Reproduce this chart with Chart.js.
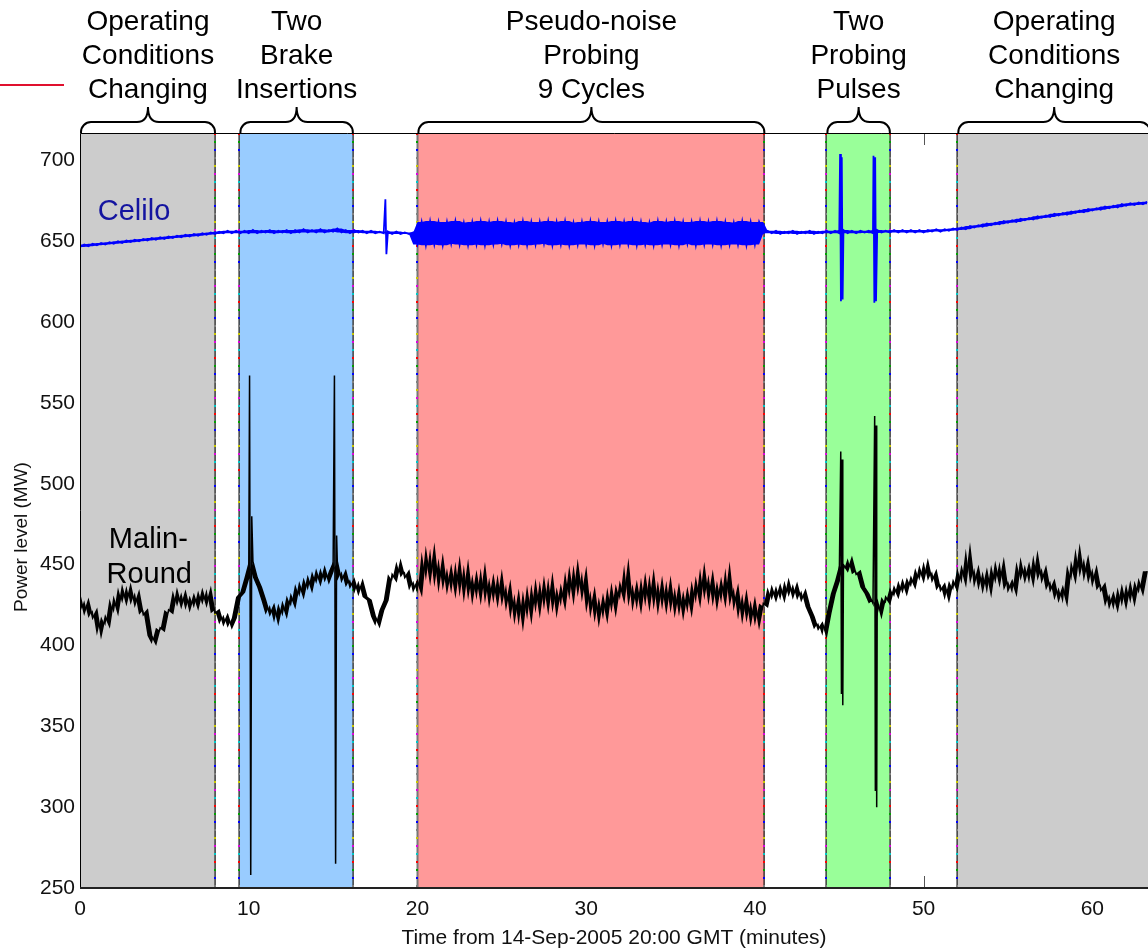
<html>
<head>
<meta charset="UTF-8">
<title>Celilo and Malin-Round power level</title>
<style>
* {
    margin: 0;
    padding: 0;
}
body {
    width: 1148px;
    height: 950px;
    background: white;
    overflow: hidden;
}
canvas {
    display: block;
}
</style>
<script src="https://cdn.jsdelivr.net/npm/chart.js@4.4.1/dist/chart.umd.min.js"></script>
</head>
<body>
<canvas id="canvas" width="1148" height="950"></canvas>
<script>
// sample step of the two traces (minutes)
const DT = 0.25

// Malin-Round power (MW), one value every DT minutes from t = 0
const malin = [
    431, 420, 428, 417, 422, 406, 418, 412,
    429, 420, 436, 426, 437, 425, 433, 419,
    422, 406, 401, 411, 409, 422, 420, 434,
    424, 433, 422, 431, 423, 434, 425, 435,
    420, 422, 413, 419, 411, 417, 430, 433,
    442, 452, 442, 436, 428, 419, 425, 414,
    426, 418, 431, 424, 438, 430, 442, 434,
    446, 438, 448, 439, 446, 452, 440, 446,
    436, 441, 432, 440, 430, 428, 418, 412,
    422, 428, 444, 440, 452, 442, 446, 434,
    440, 432, 458, 440, 460, 436, 454, 434,
    448, 432, 452, 430, 450, 428, 444, 428,
    448, 426, 442, 426, 444, 424, 438, 416,
    432, 412, 434, 416, 438, 420, 440, 422,
    442, 420, 436, 424, 446, 428, 450, 430,
    446, 420, 434, 414, 430, 416, 436, 420,
    438, 428, 450, 424, 438, 422, 442, 424,
    444, 422, 440, 422, 440, 420, 436, 418,
    434, 420, 440, 426, 448, 428, 444, 424,
    440, 426, 448, 424, 436, 416, 432, 414,
    428, 412, 426, 424, 436, 428, 437, 428,
    440, 430, 438, 428, 434, 424, 418, 410,
    414, 406, 420, 432, 440, 450, 446, 454,
    444, 446, 436, 432, 426, 428, 418, 430,
    426, 436, 430, 440, 432, 442, 436, 448,
    440, 452, 440, 446, 434, 438, 428, 440,
    434, 448, 438, 460, 438, 448, 434, 446,
    432, 450, 438, 452, 434, 440, 432, 452,
    440, 450, 438, 456, 440, 448, 434, 440,
    428, 436, 426, 450, 440, 460, 442, 454,
    438, 448, 434, 438, 424, 432, 422, 436,
    424, 438, 426, 440, 432, 446
]

// Celilo power (MW), same time base
const celilo = [
    646.5, 648, 647, 648.5, 647.5, 649, 648, 649.5,
    648.5, 650, 649, 650.5, 649.5, 651, 650, 651.5,
    650.5, 652, 651, 652.5, 651.5, 653, 652, 653.5,
    652.5, 654, 653, 654.5, 653.5, 655, 654, 655.5,
    654.5, 656, 655, 656.5, 655, 656.5, 655, 656.5,
    655, 657, 655, 656.5, 655.5, 657, 655, 656.5,
    655.5, 657, 655, 657, 655.5, 657.5, 655.5, 657,
    655.5, 657.5, 655.5, 657, 656, 658, 655.5, 657,
    655, 657, 655.5, 656.5, 655, 656.5, 655, 656,
    655, 656, 654.5, 656, 654.5, 655.5, 654.5, 655.5,
    648, 662, 647.5, 662.5, 648, 662, 647.5, 662,
    648.5, 662.5, 648, 661.5, 647.5, 662, 648, 662.5,
    647.5, 662, 648, 662.5, 648.5, 662, 647.5, 661.5,
    648, 662.5, 647.5, 662, 648, 662, 648.5, 662.5,
    647.5, 662, 648, 662.5, 647.5, 661.5, 648, 662,
    648, 662.5, 647.5, 662, 648.5, 662, 647.5, 662.5,
    648, 662, 648, 662.5, 647.5, 662, 648, 661.5,
    647.5, 662.5, 648, 662, 648, 662.5, 647.5, 662,
    648.5, 662, 647.5, 662.5, 648, 662, 648, 662.5,
    647.5, 662, 648, 661.5, 648, 662.5, 647.5, 662,
    648, 662, 655, 656.5, 655, 656.5, 654.5, 656,
    655, 656.5, 654.5, 656, 655, 656.5, 654.5, 656,
    655, 656.5, 655, 656.5, 655, 657, 655, 656.5,
    655, 656.5, 655.5, 656.5, 655, 657, 655.5, 656.5,
    655.5, 657, 655.5, 657, 655.5, 657, 655.5, 657,
    655.5, 657, 656, 657.5, 656, 657.5, 656.5, 658,
    657, 658.5, 657.5, 659.5, 658.5, 660, 659, 661,
    660, 661.5, 660.5, 662.5, 661.5, 663, 662, 664,
    663, 664.5, 663.5, 665.5, 664.5, 666, 665, 667,
    666, 667.5, 666.5, 668.5, 667.5, 669, 668, 670,
    669, 670.5, 669.5, 671.5, 670.5, 672, 671, 673,
    672, 673.5, 672.5, 674, 673, 674.5
]

// short pulses (brake insertions and probing pulses)
const malinSpikeTime = [10.05, 10.12, 10.18, 15.08, 15.15, 15.21,
    45.09, 45.13, 45.17, 45.21, 47.1, 47.14, 47.18, 47.22]
const malinSpikeValue = [567, 258, 480, 567, 265, 468,
    520, 370, 515, 363, 542, 310, 536, 300]
const celiloSpikeTime = [18.1, 18.16, 45.05, 45.1, 45.15, 45.2, 47.03, 47.08, 47.13, 47.18]
const celiloSpikeValue = [676, 642, 704, 613, 702, 614, 703, 612, 702, 613]

// shaded test periods
const regionStart = [0, 9.45, 20, 44.24, 52]
const regionEnd = [8, 16.17, 40.56, 48, 63.42]
const regionColor = ["#cccccc", "#99ccff", "#ff9999", "#99ff99", "#cccccc"]
const regionLabel = [
    ["Operating", "Conditions", "Changing"],
    ["Two", "Brake", "Insertions"],
    ["Pseudo-noise", "Probing", "9 Cycles"],
    ["Two", "Probing", "Pulses"],
    ["Operating", "Conditions", "Changing"],
]
const edgeTime = [8, 9.45, 16.17, 20, 40.56, 44.24, 48, 52]
const dotColors = ["#ff0000", "#00a000", "#0000ff", "#808080", "#c8c800", "#e000e0", "#00c8c8"]

const xTicks = [0, 10, 20, 30, 40, 50, 60]
const yTicks = [250, 300, 350, 400, 450, 500, 550, 600, 650, 700]

const FONT = "Arial, 'Liberation Sans', Helvetica, sans-serif"

function series(values, spikeT, spikeV) {
    var pts = values.map((v, i) => ({x: i * DT, y: v}))
    for (var i = 0; i < spikeT.length; ++i) pts.push({x: spikeT[i], y: spikeV[i]})
    pts.sort((a, b) => a.x - b.x)
    return pts
}

// same samples, paired with the next one: filling between the two thickens the noise
function base(values) {
    return values.map((v, i) => ({x: i * DT, y: v}))
}
function nextSample(values) {
    return values.map((v, i) => ({x: i * DT, y: values[Math.min(i + 1, values.length - 1)]}))
}
// highest / lowest of each sample and its neighbours: the noise envelope
function envelope(values, pick) {
    return values.map((v, i) => ({
        x: i * DT,
        y: pick(values[Math.max(i - 1, 0)], v, values[Math.min(i + 1, values.length - 1)]),
    }))
}

function brace(ctx, x0, x1, yb) {
    var ym = yb - 11, yt = yb - 26, r = 10, xc = (x0 + x1) / 2
    ctx.beginPath()
    ctx.moveTo(x0, yb)
    ctx.arcTo(x0, ym, x0 + r, ym, r)
    ctx.lineTo(xc - 11, ym)
    ctx.quadraticCurveTo(xc, ym, xc, yt)
    ctx.quadraticCurveTo(xc, ym, xc + 11, ym)
    ctx.lineTo(x1 - r, ym)
    ctx.arcTo(x1, ym, x1, yb, r)
    ctx.lineTo(x1, yb)
    ctx.stroke()
}

const decor = {
    id: "decor",
    beforeDatasetsDraw(chart) {
        const ctx = chart.ctx, a = chart.chartArea
        const xs = chart.scales.x, ys = chart.scales.y
        ctx.save()
        // inward tick marks (mostly hidden under the patches)
        ctx.strokeStyle = "#555"
        ctx.lineWidth = 1
        xTicks.forEach(t => {
            var px = Math.round(xs.getPixelForValue(t)) + 0.5
            ctx.beginPath()
            ctx.moveTo(px, a.top); ctx.lineTo(px, a.top + 12)
            ctx.moveTo(px, a.bottom); ctx.lineTo(px, a.bottom - 12)
            ctx.stroke()
        })
        yTicks.forEach(v => {
            var py = Math.round(ys.getPixelForValue(v)) + 0.5
            ctx.beginPath()
            ctx.moveTo(a.left, py); ctx.lineTo(a.left + 12, py)
            ctx.stroke()
        })
        // shaded periods
        ctx.beginPath()
        ctx.rect(a.left, a.top, a.right - a.left, a.bottom - a.top)
        ctx.clip()
        for (var i = 0; i < regionStart.length; ++i) {
            var x0 = xs.getPixelForValue(regionStart[i]), x1 = xs.getPixelForValue(regionEnd[i])
            ctx.fillStyle = regionColor[i]
            ctx.fillRect(x0, a.top, x1 - x0, a.bottom - a.top)
        }
        // dotted multicolour edges
        edgeTime.forEach(t => {
            var px = Math.round(xs.getPixelForValue(t))
            ctx.fillStyle = t == 20 ? "#777" : "#111"
            ctx.fillRect(px - 0.5, a.top, t == 20 ? 2 : 1.2, a.bottom - a.top)
            var k = 0
            for (var yy = a.top; yy < a.bottom; yy += 8) {
                ctx.fillStyle = dotColors[k++ % dotColors.length]
                ctx.fillRect(px - 1, yy, 2, 2)
            }
        })
        ctx.restore()
    },
    afterDatasetsDraw(chart) {
        const ctx = chart.ctx, a = chart.chartArea
        const xs = chart.scales.x, ys = chart.scales.y
        ctx.save()
        // frame
        ctx.strokeStyle = "#000"
        ctx.lineWidth = 1
        ctx.beginPath()
        ctx.moveTo(a.left + 0.5, a.bottom); ctx.lineTo(a.left + 0.5, a.top + 0.5); ctx.lineTo(a.right, a.top + 0.5)
        ctx.stroke()
        ctx.strokeStyle = "#222"
        ctx.lineWidth = 2
        ctx.beginPath()
        ctx.moveTo(a.left, a.bottom); ctx.lineTo(a.right, a.bottom)
        ctx.stroke()

        // braces and period labels
        ctx.strokeStyle = "#000"
        ctx.lineWidth = 2
        ctx.fillStyle = "#000"
        ctx.textAlign = "center"
        ctx.textBaseline = "alphabetic"
        ctx.font = "28px " + FONT
        for (var i = 0; i < regionStart.length; ++i) {
            var x0 = xs.getPixelForValue(regionStart[i]) + 1, x1 = xs.getPixelForValue(regionEnd[i])
            brace(ctx, x0, x1, a.top)
            regionLabel[i].forEach((s, j) => ctx.fillText(s, (x0 + x1) / 2, 30 + 34 * j))
        }

        // trace names
        ctx.font = "29px " + FONT
        ctx.fillStyle = "#1414a0"
        ctx.textBaseline = "middle"
        ctx.fillText("Celilo", xs.getPixelForValue(3.2), ys.getPixelForValue(668))
        ctx.fillStyle = "#000"
        ctx.fillText("Malin-", xs.getPixelForValue(4.05), ys.getPixelForValue(465.5))
        ctx.fillText("Round", xs.getPixelForValue(4.1), ys.getPixelForValue(443.3))

        // axis titles
        ctx.fillStyle = "#111"
        ctx.font = "21px " + FONT
        ctx.fillText("Time from 14-Sep-2005 20:00 GMT (minutes)", 614, 938)
        ctx.font = "19px " + FONT
        ctx.save()
        ctx.translate(22, 537)
        ctx.rotate(-Math.PI / 2)
        ctx.fillText("Power level (MW)", 0, 0)
        ctx.restore()

        // stray legend line at top left
        ctx.strokeStyle = "#e0102e"
        ctx.lineWidth = 2
        ctx.beginPath()
        ctx.moveTo(0, 85); ctx.lineTo(64, 85)
        ctx.stroke()
        ctx.restore()
    }
}

const hidden = "rgba(0,0,0,0)"
const ctx = document.getElementById("canvas").getContext("2d")
const chart = new Chart(ctx, {
    type: "line",
    data: {
        datasets: [
            {
                label: "Malin-Round",
                data: series(malin, malinSpikeTime, malinSpikeValue),
                borderColor: "#000000",
                borderWidth: 1.5,
            },
            {
                label: "Celilo",
                data: series(celilo, celiloSpikeTime, celiloSpikeValue),
                borderColor: "#0000ff",
                borderWidth: 1.8,
            },
            {label: "Malin-Round noise a", data: base(malin), borderWidth: 0, borderColor: hidden, fill: false},
            {
                label: "Malin-Round noise b",
                data: nextSample(malin),
                borderWidth: 0,
                borderColor: hidden,
                backgroundColor: "#000000",
                fill: "-1",
            },
            {
                label: "Celilo noise top",
                data: envelope(celilo, Math.max),
                borderWidth: 0,
                borderColor: hidden,
                fill: false,
            },
            {
                label: "Celilo noise bottom",
                data: envelope(celilo, Math.min),
                borderWidth: 0,
                borderColor: hidden,
                backgroundColor: "#0000ff",
                fill: "-1",
            },
        ],
    },
    options: {
        responsive: false,
        animation: false,
        events: [],
        layout: {padding: {top: 133, left: 0, right: 0, bottom: 0}},
        elements: {point: {radius: 0}, line: {tension: 0}},
        plugins: {legend: {display: false}, tooltip: {enabled: false}},
        scales: {
            x: {
                type: "linear",
                min: 0,
                max: 63.3,
                afterFit: (s) => { s.height = 62 },
                grid: {display: false, drawTicks: false},
                border: {display: false},
                ticks: {
                    stepSize: 10,
                    includeBounds: false,
                    padding: 9,
                    maxRotation: 0,
                    color: "#111",
                    font: {size: 21, family: FONT},
                },
            },
            y: {
                min: 250,
                max: 717,
                afterFit: (s) => { s.width = 80 },
                grid: {display: false, drawTicks: false},
                border: {display: false},
                ticks: {
                    stepSize: 50,
                    includeBounds: false,
                    padding: 5,
                    color: "#111",
                    font: {size: 21, family: FONT},
                },
            },
        },
    },
    plugins: [decor],
})
</script>
</body>
</html>
